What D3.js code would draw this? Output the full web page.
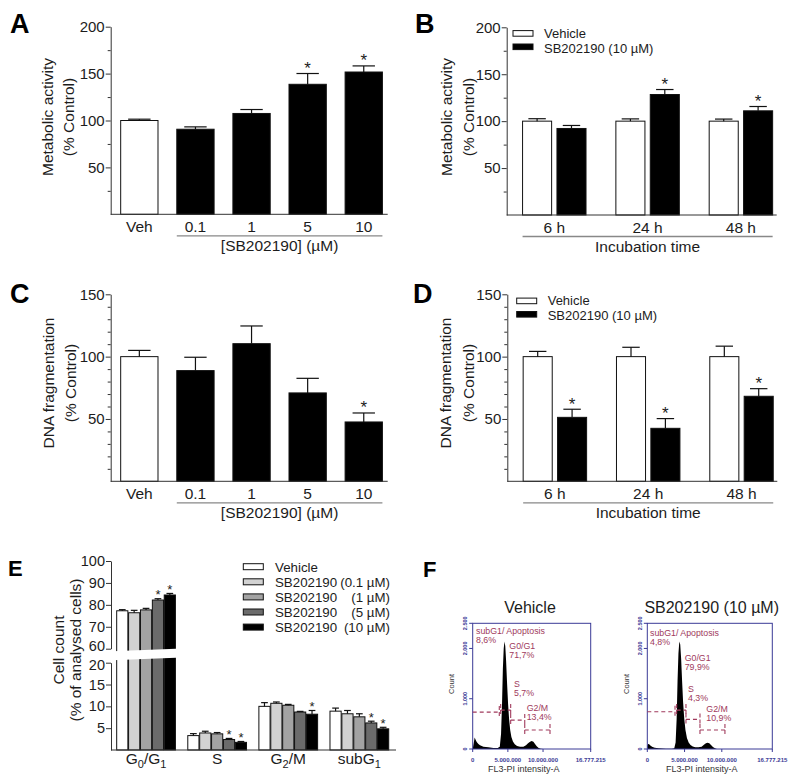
<!DOCTYPE html>
<meta charset="utf-8">
<body style="margin:0; background:#fff;">
    <div id="chart"></div>
</body>
<script src="https://cdn.jsdelivr.net/npm/d3@7/dist/d3.min.js"></script>
<script>
    var svg_width = 800,
        svg_height = 784;

    // ---- A / C : dose response ----
    var dose_cats = ["Veh", "0.1", "1", "5", "10"];
    var metab_dose = [100, 90.7, 107.5, 138.6, 151.7];
    var metab_dose_err = [1.4, 2.5, 4.2, 11.5, 6.5];
    var metab_dose_sig = [0, 0, 0, 1, 1];
    var dna_dose = [100, 88.8, 110.4, 70.9, 47.6];
    var dna_dose_err = [5.0, 10.7, 14.2, 11.7, 7.2];
    var dna_dose_sig = [0, 0, 0, 0, 1];

    // ---- B / D : time course ----
    var time_cats = ["6 h", "24 h", "48 h"];
    var pair_names = ["Vehicle", "SB202190 (10 µM)"];
    var metab_veh = [100, 100, 100];
    var metab_veh_err = [2.6, 2.4, 2.2];
    var metab_sb = [92.2, 128.4, 111.0];
    var metab_sb_err = [3.2, 5.3, 4.6];
    var metab_sb_sig = [0, 1, 1];
    var dna_veh = [100, 100, 100];
    var dna_veh_err = [4.2, 7.5, 8.4];
    var dna_sb = [51.3, 42.5, 68.2];
    var dna_sb_err = [6.5, 7.8, 6.1];
    var dna_sb_sig = [1, 1, 1];

    var ticks_metab = [50, 100, 150, 200], minor_metab = [25, 75, 125, 175];
    var ticks_dna = [50, 100, 150], minor_dna = [10, 20, 30, 40, 60, 70, 80, 90, 110, 120, 130, 140];

    // ---- E : cell cycle ----
    var phase_cats = ["G0/G1", "S", "G2/M", "subG1"];
    var cycle_names = ["Vehicle", "SB202190", "SB202190", "SB202190", "SB202190"];
    var cycle_conc = ["", "(0.1 µM)", "(1 µM)", "(5 µM)", "(10 µM)"];
    var cycle_vals = [
        [77.3, 3.3, 10.0, 8.9],
        [76.4, 3.9, 10.7, 8.3],
        [77.7, 3.7, 10.25, 7.6],
        [82.2, 2.4, 8.7, 6.2],
        [84.5, 1.75, 8.2, 4.85]
    ];
    var cycle_err = [
        [0.5, 0.45, 0.85, 0.7],
        [1.1, 0.4, 0.3, 0.75],
        [0.7, 0.3, 0.2, 0.7],
        [0.6, 0.25, 0.15, 0.4],
        [0.7, 0.2, 0.85, 0.35]
    ];
    var cycle_sig = [
        [0, 0, 0, 0],
        [0, 0, 0, 0],
        [0, 0, 0, 0],
        [1, 1, 0, 1],
        [1, 1, 1, 1]
    ];
    var cycle_fill = ["#ffffff", "#d2d2d2", "#a3a3a3", "#6b6b6b", "#000000"];
    var ticks_cycle_hi = [60, 70, 80, 90, 100], ticks_cycle_lo = [5, 10, 15, 20];

    // ---- F : flow cytometry histograms (FL3 in millions, count) ----
    var veh_fl3 = [0, 0.14, 0.28, 0.43, 0.57, 0.81, 1.04, 1.52, 2.23, 2.94, 3.55, 3.85, 4.03, 4.17, 4.29, 4.41, 4.52,
        4.63, 4.75, 4.89, 5.03, 5.17, 5.33, 5.50, 5.72, 5.98, 6.30, 6.73, 7.20, 7.58, 7.87, 8.15, 8.39, 8.63, 8.86,
        9.10, 9.38, 9.67, 10.05];
    var veh_count = [0, 112, 231, 179, 139, 99, 73, 46, 33, 20, 20, 46, 300, 900, 1600, 2000, 2140,
        2050, 1750, 1300, 900, 600, 380, 240, 150, 95, 62, 46, 46, 73, 112, 146, 159, 146, 99,
        53, 20, 7, 0];
    var sb_fl3 = [0, 0.1, 0.25, 0.45, 0.7, 1.0, 1.5, 2.5, 3.3, 3.62, 3.80, 3.94, 4.06, 4.18, 4.30, 4.42, 4.54,
        4.67, 4.81, 4.96, 5.12, 5.32, 5.55, 5.80, 6.10, 6.45, 6.85, 7.29, 7.60, 7.87, 8.10, 8.32, 8.55, 8.81, 9.08, 9.35];
    var sb_count = [60, 99, 92, 66, 40, 26, 13, 7, 7, 13, 130, 600, 1350, 1900, 2140, 2080, 1800,
        1350, 920, 600, 380, 220, 130, 80, 50, 35, 33, 46, 86, 112, 126, 112, 79, 40, 13, 0];
    var fl3_ticks = [0, 5, 10, 16.777215];
    var fl3_labels = ["0", "5.000.000", "10.000.000", "16.777.215"];
    var count_ticks = [0, 1000, 2000, 2500];
    var count_labels = ["0", "1.000", "2.000", "2.500"];
    var gate_names = ["subG1/ Apoptosis", "G0/G1", "S", "G2/M"];
    var veh_pct = ["8,6%", "71,7%", "5,7%", "13,4%"];
    var sb_pct = ["4,8%", "79,9%", "4,3%", "10,9%"];
    // [from, to, count level]
    var veh_gates = [[0, 3.78, 734], [3.98, 5.40, 774], [5.40, 7.40, 575], [7.40, 10.99, 377]];
    var sb_gates = [[0, 3.72, 740], [3.94, 5.19, 774], [5.19, 7.07, 589], [7.07, 10.42, 377]];

    var ink = "#1c1c1c";
    var font = "'Liberation Sans', Arial, Helvetica, sans-serif";

    var svg = d3.select("#chart").append("svg")
        .attr("width", svg_width)
        .attr("height", svg_height)
        .style("font-family", font);

    function panel_letter(txt, x, y, size) {
        svg.append("text").attr("x", x).attr("y", y)
            .attr("font-size", size).attr("font-weight", "bold").attr("fill", "#000")
            .text(txt);
    }

    function y_title(lines, xs, yc) {
        lines.forEach(function(t, i) {
            svg.append("text")
                .attr("transform", "translate(" + xs[i] + "," + yc + ") rotate(-90)")
                .attr("text-anchor", "middle")
                .attr("font-size", 15.5).attr("fill", ink)
                .text(t);
        });
    }

    function y_axis(scale, x, majors, minors, size) {
        var g = svg.append("g").attr("transform", "translate(" + x + ",0)")
            .call(d3.axisLeft(scale).tickValues(majors).tickSize(5).tickPadding(1).tickSizeOuter(0));
        g.selectAll("text").attr("font-size", size || 15).attr("font-family", font).attr("fill", ink);
        g.selectAll("line,path").attr("stroke", "#333");
        if (minors) {
            var m = svg.append("g").attr("transform", "translate(" + x + ",0)")
                .call(d3.axisLeft(scale).tickValues(minors).tickSize(3).tickFormat("").tickSizeOuter(0));
            m.select(".domain").remove();
            m.selectAll("line").attr("stroke", "#333");
        }
        return g;
    }

    function x_line(x1, x2, y) {
        svg.append("line").attr("x1", x1).attr("x2", x2).attr("y1", y).attr("y2", y)
            .attr("stroke", "#333").attr("stroke-width", 1);
    }

    function err_bar(g, cx, yTop, yErr, w) {
        g.append("line").attr("x1", cx).attr("x2", cx).attr("y1", yTop).attr("y2", yErr)
            .attr("stroke", "#111").attr("stroke-width", 1.2);
        g.append("line").attr("x1", cx - w / 2).attr("x2", cx + w / 2).attr("y1", yErr).attr("y2", yErr)
            .attr("stroke", "#111").attr("stroke-width", 1.2);
    }

    function star(g, cx, y, size) {
        g.append("text").attr("x", cx).attr("y", y).attr("text-anchor", "middle")
            .attr("font-size", size).attr("fill", ink).text("*");
    }

    // single series dose panel (A, C)
    function dose_panel(o) {
        var y = d3.scaleLinear().domain([0, o.max]).range([o.bottom, o.top]);
        var x = d3.scaleBand().domain(dose_cats).range([o.left, o.left + 281.7])
            .paddingInner(0.335).paddingOuter(0.178);
        var bw = x.bandwidth();
        var g = svg.append("g");
        g.selectAll("rect").data(dose_cats).join("rect")
            .attr("x", function(c) { return x(c); })
            .attr("y", function(c, i) { return y(o.vals[i]); })
            .attr("width", bw)
            .attr("height", function(c, i) { return o.bottom - y(o.vals[i]); })
            .attr("fill", function(c, i) { return i == 0 ? "#fff" : "#000"; })
            .attr("stroke", "#111").attr("stroke-width", 1);
        dose_cats.forEach(function(c, i) {
            var cx = x(c) + bw / 2;
            err_bar(g, cx, y(o.vals[i]), y(o.vals[i] + o.err[i]), bw * 0.6);
            if (o.sig[i]) star(g, cx, y(o.vals[i] + o.err[i]) + 0.5, 17);
            svg.append("text").attr("x", cx).attr("y", o.bottom + 17.5).attr("text-anchor", "middle")
                .attr("font-size", 15.5).attr("fill", ink).text(c);
        });
        y_axis(y, o.left, o.ticks, o.minors);
        x_line(o.left, o.left + 277, o.bottom);
        svg.append("line").attr("x1", x("0.1")).attr("x2", x("10") + bw)
            .attr("y1", o.bottom + 21.5).attr("y2", o.bottom + 21.5)
            .attr("stroke", "#888").attr("stroke-width", 1.3);
        svg.append("text").attr("x", (x("0.1") + x("10") + bw) / 2).attr("y", o.bottom + 37)
            .attr("text-anchor", "middle").attr("font-size", 15.5).attr("fill", ink)
            .text("[SB202190] (µM)");
    }

    // paired time course panel (B, D)
    function time_panel(o) {
        var y = d3.scaleLinear().domain([0, o.max]).range([o.bottom, o.top]);
        var x0 = d3.scaleBand().domain(time_cats).range([o.left, o.left + 281.8])
            .paddingInner(0.32).paddingOuter(0.17);
        var x1 = d3.scaleBand().domain([0, 1]).range([0, x0.bandwidth()]).paddingInner(0.155);
        var bw = x1.bandwidth();
        var g = svg.append("g");
        var series = [[o.veh, o.vehErr, [0, 0, 0]], [o.sb, o.sbErr, o.sig]];
        series.forEach(function(s, k) {
            time_cats.forEach(function(c, i) {
                var bx = x0(c) + x1(k), cx = bx + bw / 2;
                g.append("rect").attr("x", bx).attr("y", y(s[0][i]))
                    .attr("width", bw).attr("height", o.bottom - y(s[0][i]))
                    .attr("fill", k == 0 ? "#fff" : "#000")
                    .attr("stroke", "#111").attr("stroke-width", 1);
                err_bar(g, cx, y(s[0][i]), y(s[0][i] + s[1][i]), bw * 0.6);
                if (s[2][i]) star(g, cx, y(s[0][i] + s[1][i]) + 0.5, 17);
            });
        });
        time_cats.forEach(function(c) {
            svg.append("text").attr("x", x0(c) + x0.bandwidth() / 2).attr("y", o.bottom + 17.5)
                .attr("text-anchor", "middle").attr("font-size", 15.5).attr("fill", ink).text(c);
        });
        y_axis(y, o.left, o.ticks, o.minors);
        x_line(o.left, o.left + 270, o.bottom);
        svg.append("line").attr("x1", x0("6 h")).attr("x2", x0("48 h") + x0.bandwidth())
            .attr("y1", o.bottom + 21.5).attr("y2", o.bottom + 21.5)
            .attr("stroke", "#888").attr("stroke-width", 1.3);
        svg.append("text").attr("x", x0("24 h") + x0.bandwidth() / 2).attr("y", o.bottom + 37)
            .attr("text-anchor", "middle").attr("font-size", 15.5).attr("fill", ink)
            .text("Incubation time");
        // legend
        pair_names.forEach(function(n, k) {
            var ly = o.legY + k * 13.4;
            svg.append("rect").attr("x", o.legX).attr("y", ly - 2.7).attr("width", 20).attr("height", 5.6)
                .attr("fill", k == 0 ? "#fff" : "#000").attr("stroke", "#111").attr("stroke-width", 1);
            svg.append("text").attr("x", o.legX + 31).attr("y", o.legY + 4.2 + k * 15)
                .attr("font-size", 13).attr("fill", ink).text(n);
        });
    }

    // ---------- A ----------
    panel_letter("A", 10, 33, 27);
    dose_panel({left: 110.7, top: 26.7, bottom: 214.3, max: 200, vals: metab_dose, err: metab_dose_err,
        sig: metab_dose_sig, ticks: ticks_metab, minors: minor_metab});
    y_title(["Metabolic activity", "(% Control)"], [52.5, 73.5], 117);

    // ---------- B ----------
    panel_letter("B", 415, 33, 27);
    time_panel({left: 506.7, top: 27.3, bottom: 215, max: 200, veh: metab_veh, vehErr: metab_veh_err,
        sb: metab_sb, sbErr: metab_sb_err, sig: metab_sb_sig, ticks: ticks_metab, minors: minor_metab,
        legX: 513, legY: 33.3});
    y_title(["Metabolic activity", "(% Control)"], [452, 474], 117);

    // ---------- C ----------
    panel_letter("C", 10, 303, 27);
    dose_panel({left: 110.7, top: 294.3, bottom: 481.3, max: 150, vals: dna_dose, err: dna_dose_err,
        sig: dna_dose_sig, ticks: ticks_dna, minors: minor_dna});
    y_title(["DNA fragmentation", "(% Control)"], [53.5, 75.5], 383);

    // ---------- D ----------
    panel_letter("D", 413, 303, 27);
    time_panel({left: 507.3, top: 294.3, bottom: 481.3, max: 150, veh: dna_veh, vehErr: dna_veh_err,
        sb: dna_sb, sbErr: dna_sb_err, sig: dna_sb_sig, ticks: ticks_dna, minors: minor_dna,
        legX: 516.7, legY: 300.8});
    y_title(["DNA fragmentation", "(% Control)"], [451, 473.5], 383);

    // ---------- E ----------
    panel_letter("E", 8, 576, 22);
    (function() {
        var yHi = d3.scaleLinear().domain([60, 100]).range([648.7, 561]);
        var yLo = d3.scaleLinear().domain([0, 20]).range([750, 662.7]);
        var yE = function(v) { return v > 20 ? yHi(v) : yLo(v); };
        var x0 = d3.scaleBand().domain(phase_cats).range([111, 394.4]).paddingInner(0.174).paddingOuter(0.08);
        var x1 = d3.scaleBand().domain(d3.range(cycle_vals.length)).range([0, x0.bandwidth()]).paddingInner(0.06);
        var bw = x1.bandwidth();
        var g = svg.append("g");
        cycle_vals.forEach(function(vals, k) {
            phase_cats.forEach(function(c, i) {
                var bx = x0(c) + x1(k), cx = bx + bw / 2, v = vals[i], e = cycle_err[k][i];
                g.append("rect").attr("x", bx).attr("y", yE(v)).attr("width", bw).attr("height", 750 - yE(v))
                    .attr("fill", cycle_fill[k]).attr("stroke", "#111").attr("stroke-width", 1);
                err_bar(g, cx, yE(v), yE(v + e), bw * 0.6);
                if (cycle_sig[k][i]) star(g, cx, yE(v + e) + 0.5, 13);
            });
        });
        // axis break across the G0/G1 bars
        svg.append("polygon")
            .attr("points", [[106, 651.5], [182, 648.5], [182, 657.5], [106, 660.5]].join(" "))
            .attr("fill", "#fff");
        var hi = y_axis(yHi, 111, ticks_cycle_hi, null, 14.5);
        var lo = y_axis(yLo, 111, ticks_cycle_lo, null, 14.5);
        // keep the two labels at the break apart
        hi.selectAll(".tick text").filter(function(d) { return d == 60; }).attr("dy", "0.12em");
        lo.selectAll(".tick text").filter(function(d) { return d == 20; }).attr("dy", "0.5em");
        x_line(111, 396, 750);
        phase_cats.forEach(function(c) {
            var t = svg.append("text").attr("x", x0(c) + x0.bandwidth() / 2).attr("y", 764)
                .attr("text-anchor", "middle").attr("font-size", 15.5).attr("fill", ink);
            var sub = false;
            c.split(/(\d)/).forEach(function(part) {
                if (!part) return;
                var isNum = /\d/.test(part);
                var ts = t.append("tspan").text(part);
                if (isNum && !sub) { ts.attr("dy", 4).attr("font-size", 11); sub = true; }
                else if (!isNum && sub) { ts.attr("dy", -4); sub = false; }
            });
        });
        y_title(["Cell count", "(% of analysed cells)"], [63.5, 80.5], 650);
        // legend
        cycle_names.forEach(function(n, k) {
            var ly = 566.7 + k * 15.1;
            svg.append("rect").attr("x", 243.3).attr("y", ly - 3).attr("width", 20).attr("height", 6)
                .attr("fill", cycle_fill[k]).attr("stroke", "#111").attr("stroke-width", 1);
            var t = svg.append("text").attr("x", 275).attr("y", ly + 4.8)
                .attr("font-size", 13.3).attr("fill", ink);
            t.append("tspan").text(n);
            if (cycle_conc[k]) {
                t.append("tspan").attr("x", 390).attr("text-anchor", "end").text(cycle_conc[k]);
            }
        });
    })();

    // ---------- F ----------
    panel_letter("F", 423, 577, 22);
    var blue = "#3a3a96", maroon = "#a03a5c";

    function flow_panel(o) {
        var xs = d3.scaleLinear().domain([0, 16.777215]).range([o.left, o.right]);
        var ys = d3.scaleLinear().domain([0, 2500]).range([o.bottom, o.top]);
        var g = svg.append("g");
        var area = d3.area()
            .x(function(d) { return xs(d[0]); })
            .y0(o.bottom)
            .y1(function(d) { return ys(d[1]); });
        g.append("path").datum(d3.zip(o.fl3, o.count)).attr("d", area).attr("fill", "#000");
        g.append("rect").attr("x", o.left).attr("y", o.top)
            .attr("width", o.right - o.left).attr("height", o.bottom - o.top)
            .attr("fill", "none").attr("stroke", blue).attr("stroke-width", 1);
        // y ticks
        count_ticks.forEach(function(v, i) {
            g.append("line").attr("x1", o.left - 3.5).attr("x2", o.left).attr("y1", ys(v)).attr("y2", ys(v))
                .attr("stroke", blue).attr("stroke-width", 1);
            g.append("text")
                .attr("transform", "translate(" + (o.left - 5.5) + "," + ys(v) + ") rotate(-90)")
                .attr("text-anchor", "middle").attr("font-size", 5.5).attr("font-weight", "bold")
                .attr("fill", blue).text(count_labels[i]);
        });
        // x ticks
        fl3_ticks.forEach(function(v, i) {
            g.append("line").attr("x1", xs(v)).attr("x2", xs(v)).attr("y1", o.bottom).attr("y2", o.bottom + 3)
                .attr("stroke", blue).attr("stroke-width", 1);
            g.append("text").attr("x", xs(v)).attr("y", o.bottom + 12.5).attr("text-anchor", "middle")
                .attr("font-size", 6).attr("font-weight", "bold").attr("fill", blue).text(fl3_labels[i]);
        });
        g.append("text").attr("transform", "translate(" + (o.left - 18.5) + ",684) rotate(-90)")
            .attr("text-anchor", "middle").attr("font-size", 7.5).attr("fill", "#333").text("Count");
        g.append("text").attr("x", (o.left + o.right) / 2 - 8).attr("y", o.bottom + 22.5)
            .attr("text-anchor", "middle").attr("font-size", 9).attr("fill", "#333").text("FL3-PI intensity-A");
        g.append("text").attr("x", o.titleX).attr("y", 613).attr("text-anchor", "middle")
            .attr("font-size", 16).attr("fill", ink).text(o.title);
        // gates
        o.gates.forEach(function(gt) {
            var gy = ys(gt[2]);
            g.append("line").attr("x1", xs(gt[0])).attr("x2", xs(gt[1])).attr("y1", gy).attr("y2", gy)
                .attr("stroke", maroon).attr("stroke-width", 1.1).attr("stroke-dasharray", "4,3");
            [gt[0], gt[1]].forEach(function(v) {
                if (v == 0) return;
                g.append("line").attr("x1", xs(v)).attr("x2", xs(v)).attr("y1", gy - 6).attr("y2", gy + 6)
                    .attr("stroke", maroon).attr("stroke-width", 1.1).attr("stroke-dasharray", "4,2");
            });
        });
        // gate labels, one text per line
        gate_names.forEach(function(n, i) {
            var p = o.labels[i];
            [n, o.pct[i]].forEach(function(line, j) {
                g.append("text").attr("x", o.left + p[0]).attr("y", o.top + p[1] + j * 9)
                    .attr("font-size", 8.8).attr("fill", maroon).text(line);
            });
        });
    }

    flow_panel({left: 472.7, right: 590.7, top: 623.3, bottom: 749, fl3: veh_fl3, count: veh_count,
        gates: veh_gates, pct: veh_pct, title: "Vehicle", titleX: 530,
        labels: [[3.3, 10.2], [36.6, 25.7], [41.3, 63.4], [54, 87.7]]});
    flow_panel({left: 647.3, right: 772.3, top: 623.3, bottom: 749, fl3: sb_fl3, count: sb_count,
        gates: sb_gates, pct: sb_pct, title: "SB202190 (10 µM)", titleX: 711.7,
        labels: [[2.7, 12.7], [37.4, 37.7], [40.7, 68.4], [59, 89]]});
</script>
